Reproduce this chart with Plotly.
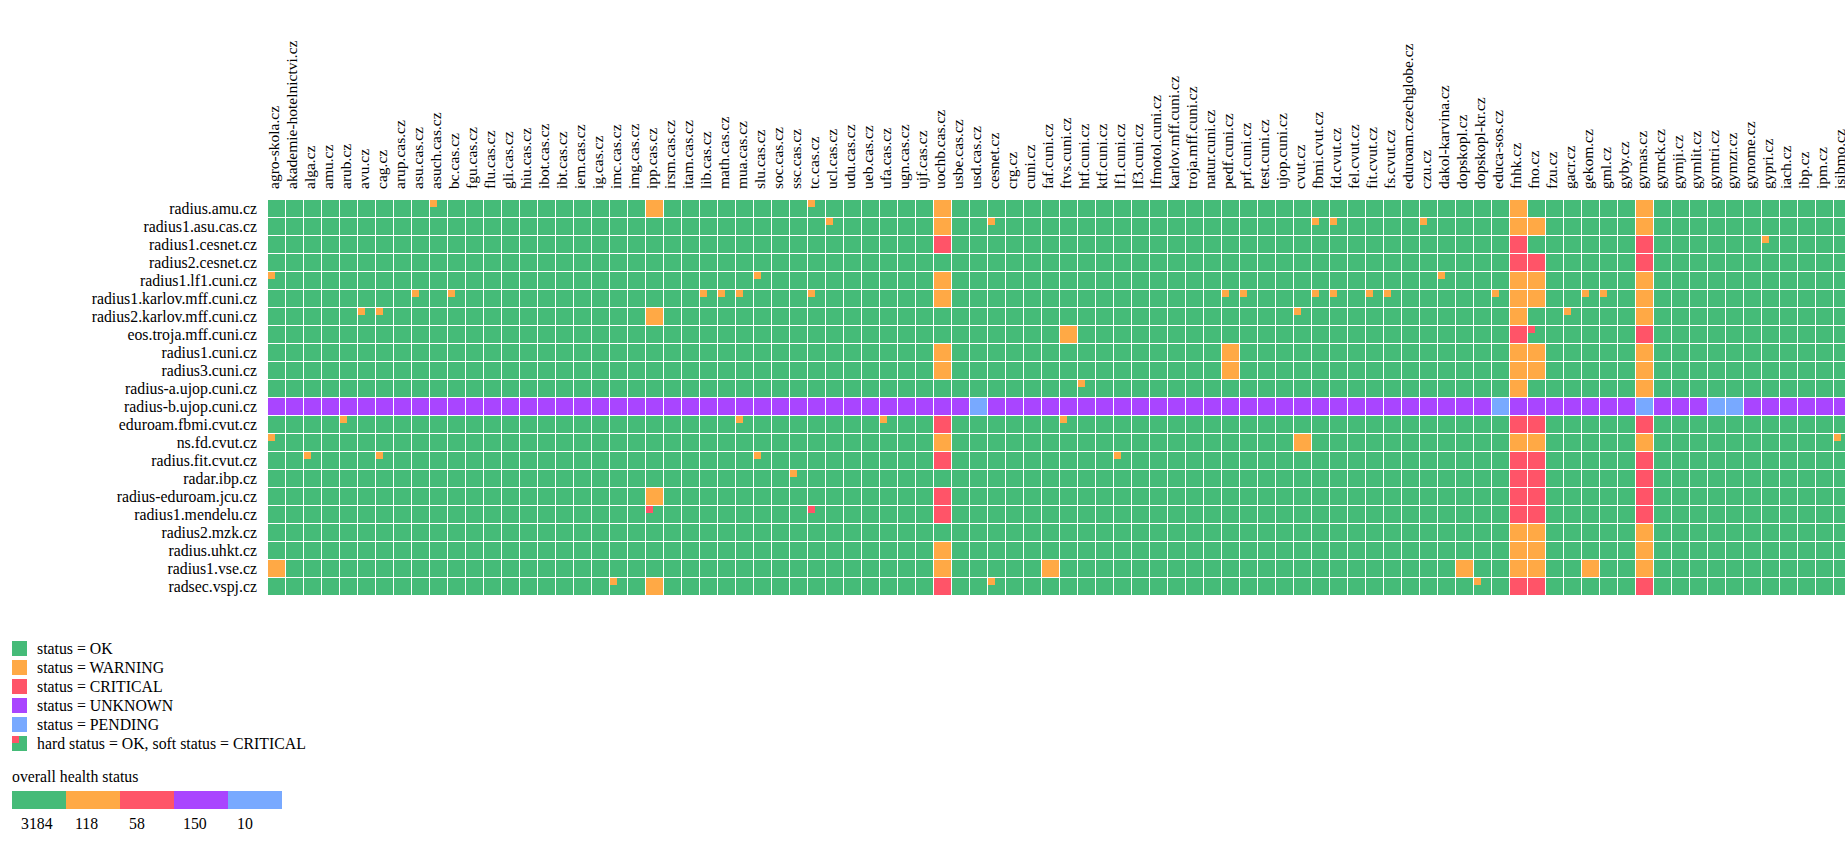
import plotly.graph_objects as go

W, H = 1845, 849
FONT = "Liberation Serif"

columns = """agro-skola.cz akademie-hotelnictvi.cz alga.cz amu.cz arub.cz avu.cz cag.cz arup.cas.cz asu.cas.cz asuch.cas.cz bc.cas.cz fgu.cas.cz flu.cas.cz gli.cas.cz hiu.cas.cz ibot.cas.cz ibt.cas.cz iem.cas.cz ig.cas.cz imc.cas.cz img.cas.cz ipp.cas.cz irsm.cas.cz itam.cas.cz lib.cas.cz math.cas.cz mua.cas.cz slu.cas.cz soc.cas.cz ssc.cas.cz tc.cas.cz ucl.cas.cz udu.cas.cz ueb.cas.cz ufa.cas.cz ugn.cas.cz ujf.cas.cz uochb.cas.cz usbe.cas.cz usd.cas.cz cesnet.cz crg.cz cuni.cz faf.cuni.cz ftvs.cuni.cz htf.cuni.cz ktf.cuni.cz lf1.cuni.cz lf3.cuni.cz lfmotol.cuni.cz karlov.mff.cuni.cz troja.mff.cuni.cz natur.cuni.cz pedf.cuni.cz prf.cuni.cz test.cuni.cz ujop.cuni.cz cvut.cz fbmi.cvut.cz fd.cvut.cz fel.cvut.cz fit.cvut.cz fs.cvut.cz eduroam.czechglobe.cz czu.cz dakol-karvina.cz dopskopl.cz dopskopl-kr.cz educa-sos.cz fnhk.cz fno.cz fzu.cz gacr.cz gekom.cz gml.cz gyby.cz gymas.cz gymck.cz gymji.cz gymlit.cz gymtri.cz gymzr.cz gynome.cz gypri.cz iach.cz ibp.cz ipm.cz isibmo.cz""".split()

rows = ["radius.amu.cz", "radius1.asu.cas.cz", "radius1.cesnet.cz", "radius2.cesnet.cz",
        "radius1.lf1.cuni.cz", "radius1.karlov.mff.cuni.cz", "radius2.karlov.mff.cuni.cz",
        "eos.troja.mff.cuni.cz", "radius1.cuni.cz", "radius3.cuni.cz", "radius-a.ujop.cuni.cz",
        "radius-b.ujop.cuni.cz", "eduroam.fbmi.cvut.cz", "ns.fd.cvut.cz", "radius.fit.cvut.cz",
        "radar.ibp.cz", "radius-eduroam.jcu.cz", "radius1.mendelu.cz", "radius2.mzk.cz",
        "radius.uhkt.cz", "radius1.vse.cz", "radsec.vspj.cz"]

OK, WARN, CRIT, UNKN, PEND = 0, 1, 2, 3, 4
status_colors = ["#45BB78", "#FFA945", "#FF5468", "#A945FF", "#78A9FF"]
legend_labels = ["status = OK", "status = WARNING", "status = CRITICAL", "status = UNKNOWN",
                 "status = PENDING", "hard status = OK, soft status = CRITICAL"]
overall_counts = [3184, 118, 58, 150, 10]

# non-OK hard status, listed per column: {column: {row: status}}
W_, C_ = WARN, CRIT
hard_by_column = {
    "agro-skola.cz": {20: W_},
    "ipp.cas.cz": {0: W_, 6: W_, 16: W_, 21: W_},
    "uochb.cas.cz": {0: W_, 1: W_, 2: C_, 4: W_, 5: W_, 8: W_, 9: W_, 12: C_, 13: W_, 14: C_,
                     16: C_, 17: C_, 19: W_, 20: W_, 21: C_},
    "faf.cuni.cz": {20: W_},
    "ftvs.cuni.cz": {7: W_},
    "pedf.cuni.cz": {8: W_, 9: W_},
    "cvut.cz": {13: W_},
    "dopskopl.cz": {20: W_},
    "fnhk.cz": {0: W_, 1: W_, 2: C_, 3: C_, 4: W_, 5: W_, 6: W_, 7: C_, 8: W_, 9: W_, 10: W_,
                12: C_, 13: W_, 14: C_, 15: C_, 16: C_, 17: C_, 18: W_, 19: W_, 20: W_, 21: C_},
    "fno.cz": {1: W_, 3: C_, 4: W_, 5: W_, 8: W_, 9: W_, 12: C_, 13: W_, 14: C_, 15: C_, 16: C_,
               17: C_, 18: W_, 19: W_, 20: W_, 21: C_},
    "gekom.cz": {20: W_},
    "gymas.cz": {0: W_, 1: W_, 2: C_, 3: C_, 4: W_, 5: W_, 6: W_, 7: C_, 8: W_, 9: W_, 10: W_,
                 12: C_, 13: W_, 14: C_, 15: C_, 16: C_, 17: C_, 18: W_, 19: W_, 20: W_, 21: C_},
}
unknown_row = "radius-b.ujop.cuni.cz"
pending_columns = ["usd.cas.cz", "educa-sos.cz", "gymas.cz", "gymtri.cz", "gymzr.cz"]

# hard OK cells with a different soft status: (row index, column index)
soft_warning = [(0, 9), (0, 30), (1, 31), (1, 40), (1, 58), (1, 59), (1, 64), (2, 83), (4, 0), (4, 27),
                (4, 65), (5, 8), (5, 10), (5, 24), (5, 25), (5, 26), (5, 30), (5, 53), (5, 54), (5, 58),
                (5, 59), (5, 61), (5, 62), (5, 68), (5, 73), (5, 74), (6, 5), (6, 6), (6, 57), (6, 72),
                (10, 45), (12, 4), (12, 26), (12, 34), (12, 44), (13, 0), (13, 87), (14, 2), (14, 6),
                (14, 27), (14, 47), (15, 29), (21, 19), (21, 40), (21, 67)]
soft_critical = [(7, 70), (17, 21), (17, 30)]

z = [[OK] * len(columns) for _ in rows]
for col, cells in hard_by_column.items():
    for r, s in cells.items():
        z[r][columns.index(col)] = s
ur = rows.index(unknown_row)
z[ur] = [UNKN] * len(columns)
for col in pending_columns:
    z[ur][columns.index(col)] = PEND

colorscale = []
for i, c in enumerate(status_colors):
    colorscale += [[i / 5, c], [(i + 1) / 5, c]]

def hm(zz, **kw):
    return go.Heatmap(z=zz, zmin=-0.5, zmax=4.5, colorscale=colorscale, showscale=False,
                      hoverinfo="skip", **kw)

CELL = 18
X0, Y0 = 268, 200
x_dom = [X0 / W, 1]
y_dom = [1 - (Y0 + CELL * len(rows)) / H, 1 - Y0 / H]
vis = (W - X0) / CELL
SMALL = 7
off = (SMALL / 2) / CELL - 0.5

fig = go.Figure()
fig.add_trace(hm(z, x=list(range(len(columns))), y=list(range(len(rows))), xgap=1, ygap=1,
                 xaxis="x", yaxis="y"))
for cells, si in ((soft_warning, WARN), (soft_critical, CRIT)):
    fig.add_trace(go.Scatter(x=[c + off for _, c in cells], y=[r + off for r, _ in cells],
                             mode="markers", xaxis="x", yaxis="y", hoverinfo="skip", showlegend=False,
                             marker=dict(symbol="square", size=SMALL, color=status_colors[si],
                                         line=dict(width=0))))

# legend swatches
LS_Y0, LS_P = 639, 19
leg_z = [[OK], [WARN], [CRIT], [UNKN], [PEND], [OK]]
fig.add_trace(hm(leg_z, x=[0], y=list(range(6)), ygap=4, xaxis="x3", yaxis="y3"))
fig.add_trace(go.Scatter(x=[-0.5 + 3.5 / 15], y=[5 - 0.5 + (2 + 3.5) / 19], mode="markers",
                         xaxis="x3", yaxis="y3", hoverinfo="skip", showlegend=False,
                         marker=dict(symbol="square", size=7, color=status_colors[CRIT], line=dict(width=0))))

# overall bar
fig.add_trace(hm([[0, 1, 2, 3, 4]], x=list(range(5)), y=[0], xaxis="x2", yaxis="y2"))

font = dict(family=FONT, size=15.8, color="#000000")
col_font = dict(family=FONT, size=15.5, color="#000000")
ann = [dict(text="overall health status", x=12 / W, y=1 - 776 / H, xref="paper", yref="paper",
            xanchor="left", yanchor="middle", xshift=-2, showarrow=False, font=font)]
for i, n in enumerate(overall_counts):
    ann.append(dict(text=str(n), x=i - 0.5, y=1 - 823 / H, xref="x2", yref="paper", xanchor="left",
                    yanchor="middle", xshift=7, showarrow=False, font=font))

hidden = dict(showgrid=False, zeroline=False, showticklabels=False, ticks="", showline=False, fixedrange=True)
fig.update_layout(
    width=W, height=H, margin=dict(l=0, r=0, t=0, b=0), autosize=False, showlegend=False,
    plot_bgcolor="white", paper_bgcolor="white", font=font, annotations=ann,
    xaxis=dict(domain=x_dom, range=[-0.5, -0.5 + vis], side="top", anchor="y", tickmode="array",
               tickvals=list(range(len(columns))), ticktext=columns, tickangle=-90, showgrid=False,
               zeroline=False, ticks="", automargin=False, ticklabelstandoff=10, tickfont=col_font,
               ticklabeloverflow="allow", ticklabelshift=-3),
    yaxis=dict(domain=y_dom, range=[len(rows) - 0.5, -0.5], anchor="x", tickmode="array",
               tickvals=list(range(len(rows))), ticktext=rows, showgrid=False, zeroline=False,
               ticks="", automargin=False, ticklabelstandoff=10, ticklabelshift=1, tickfont=font),
    xaxis2=dict(domain=[12 / W, 282 / W], range=[-0.5, 4.5], anchor="y2", **hidden),
    yaxis2=dict(domain=[1 - 809 / H, 1 - 791 / H], range=[-0.5, 0.5], anchor="x2", **hidden),
    xaxis3=dict(domain=[12 / W, 27 / W], range=[-0.5, 0.5], anchor="y3", **hidden),
    yaxis3=dict(domain=[1 - (LS_Y0 + 6 * LS_P) / H, 1 - LS_Y0 / H], range=[5.5, -0.5], anchor="x3",
                side="right", tickmode="array", tickvals=list(range(6)), ticktext=legend_labels,
                showgrid=False, zeroline=False, ticks="", automargin=False, ticklabelstandoff=9,
                tickfont=font),
)
fig.write_html("out.html", config={"displayModeBar": False, "staticPlot": True},
               post_script="document.body.style.margin='0';document.body.style.overflow='hidden';")
